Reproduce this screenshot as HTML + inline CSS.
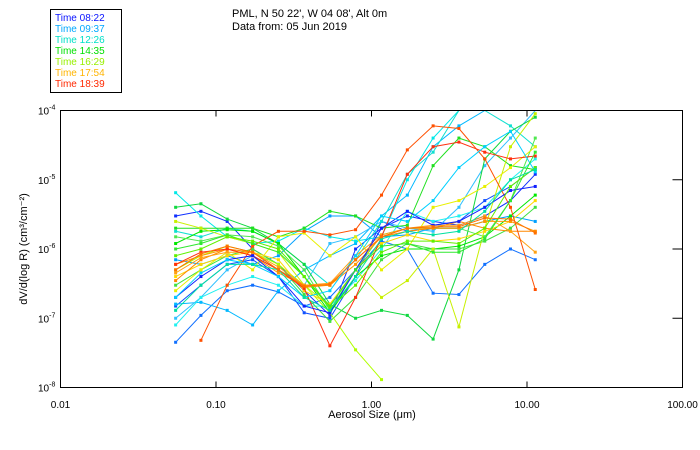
<!DOCTYPE html>
<html><head><meta charset="utf-8"><style>
body{margin:0;background:#fff;}
svg{display:block;font-family:"Liberation Sans",sans-serif;}
</style></head><body>
<svg id="chart" width="700" height="450" viewBox="0 0 700 450">
<rect x="0" y="0" width="700" height="450" fill="#fff"/>
<g>
<rect x="50.5" y="9.5" width="71" height="83" fill="#fff" stroke="#000"/>
</g>
<text x="232" y="17" font-size="11">PML, N 50 22', W 04 08', Alt 0m</text>
<text x="232" y="30" font-size="11">Data from: 05 Jun 2019</text>
<g id="axes"></g>
<g id="series"></g>
<rect x="60.5" y="110.5" width="622" height="277" fill="none" stroke="#000"/>
<text x="372" y="418" font-size="11" text-anchor="middle">Aerosol Size (μm)</text>
<text transform="translate(27,249) rotate(-90)" font-size="11" text-anchor="middle">dV/d(log R) (cm³/cm⁻²)</text>
</svg>
<script>
const sizes=[0.055,0.08,0.118,0.172,0.252,0.369,0.54,0.79,1.16,1.7,2.49,3.65,5.35,7.83,11.3];
const xTicks=[0.01,0.1,1,10,100];
const xTickLabels=["0.01","0.10","1.00","10.00","100.00"];
const yTicks=[-4,-5,-6,-7,-8];
const legendLabels=["Time 08:22","Time 09:37","Time 12:26","Time 14:35","Time 16:29","Time 17:54","Time 18:39"];
const legendColors=["#0a14ff","#00a8ff","#00e0c8","#00e000","#98f000","#ffb400","#ff2800"];
const seriesColors=["#1030ff","#1050ff","#1070ff","#00a0ff","#00b8ff","#30c0ff","#00e8e8","#10e0d0","#20f0f0","#10d840","#20e020","#00e800","#40e040","#50e850","#b0ff00","#c8f000","#e8f000","#ffd800","#ff9800","#ff8800","#ffa010","#ff5000","#ff3010","#1020ff","#00d0ff","#30e830","#60f000","#00e0a0","#ff7000"];
const s0=[3e-6,3.5e-6,2.5e-6,1e-6,6e-7,2.5e-7,1.1e-7,1e-6,2e-6,3e-6,2.5e-6,2.2e-6,3e-6,5e-6,1.2e-5];
const s1=[1.5e-7,3e-7,6e-7,7e-7,4e-7,1.2e-7,1e-7,4e-7,2.5e-6,1.8e-6,2e-6,2.5e-6,5e-6,8e-6,1.5e-5];
const s2=[4.5e-8,1.1e-7,2.5e-7,3e-7,2.4e-7,1.5e-7,2e-7,5e-7,1.3e-6,1e-6,2.3e-7,2.2e-7,6e-7,1e-6,7e-7];
const s3=[7e-7,6e-7,8e-7,6e-7,8e-7,1.8e-6,3e-6,3e-6,1.5e-6,1.6e-6,2e-6,2e-6,2.5e-6,3e-6,2.5e-6];
const s4=[1.6e-7,1.7e-7,1.3e-7,8e-8,2.5e-7,5e-7,8e-7,1.2e-6,3e-6,6e-6,3e-5,6e-5,1e-4,1e-4,1e-4];
const s5=[1e-7,2e-7,5e-7,8e-7,5e-7,3e-7,1.2e-6,1.5e-6,2.5e-6,2e-6,1.8e-6,4e-6,1.6e-5,4e-5,1e-4];
const s6=[6.5e-6,3e-6,1.5e-6,1.2e-6,1.3e-6,2e-6,1.5e-6,1.3e-6,1.5e-6,1e-5,4e-5,1e-4,1e-4,1e-4,1e-4];
const s7=[1.8e-6,1.5e-6,2e-6,1.8e-6,1.2e-6,6e-7,3e-7,7e-7,2.5e-6,1.2e-5,2.5e-5,1e-4,1e-4,6e-5,3e-5];
const s8=[8e-8,2e-7,3e-7,4e-7,3e-7,1.5e-7,1.5e-7,3.5e-7,1e-6,3.5e-6,2.5e-6,3e-6,4e-6,1e-5,2e-5];
const s9=[4e-6,4.5e-6,2.7e-6,2e-6,1.2e-6,6e-7,1.6e-7,1e-7,1.3e-7,1.1e-7,5e-8,5e-7,2e-5,5e-5,8e-5];
const s10=[2e-6,2e-6,2e-6,2e-6,1.5e-6,2e-6,3.5e-6,3e-6,2e-6,2.2e-6,1.6e-5,4e-5,3e-5,1.6e-5,1.4e-5];
const s11=[1.2e-6,1.8e-6,1.9e-6,1.8e-6,1.2e-6,4e-7,1.2e-7,4e-7,8e-7,1e-6,1e-6,1.1e-6,1.5e-6,3e-6,6e-6];
const s12=[3e-7,5e-7,8e-7,1e-6,6e-7,2.2e-7,9e-8,2e-7,7e-7,1.2e-6,1e-6,1e-6,1.3e-6,2e-6,4e-6];
const s13=[1.5e-6,1.3e-6,1.6e-6,1.5e-6,1.1e-6,5e-7,1.3e-7,5e-7,1.6e-6,2e-6,2e-6,2e-6,1.5e-6,5e-6,4e-5];
const s14=[5e-7,8e-7,1.1e-6,9e-7,6e-7,3e-7,1.2e-7,3.5e-8,1.3e-8,null,null,null,null,null,null];
const s15=[2.5e-6,2e-6,1.5e-6,1.2e-6,9e-7,3e-7,1.5e-7,5e-7,2e-7,3.5e-7,1e-6,7.5e-8,2e-6,3e-5,9e-5];
const s16=[2.5e-7,5e-7,9e-7,5e-7,1.5e-6,1.7e-6,8e-7,1.5e-6,5e-7,1e-6,4e-6,5e-6,8e-6,1.5e-5,3e-5];
const s17=[4e-7,6e-7,8e-7,9e-7,7e-7,2.5e-7,1.6e-7,5e-7,1.2e-6,1.6e-6,1.3e-6,1.4e-6,1.8e-6,2.5e-6,5e-6];
const s18=[6e-7,8e-7,1e-6,8e-7,4.5e-7,3e-7,3e-7,6e-7,1.5e-6,2e-6,2e-6,2e-6,2.5e-6,2.5e-6,1.8e-6];
const s19=[3.5e-7,7e-7,1e-6,9e-7,5e-7,2.8e-7,3e-7,7e-7,1.5e-6,1.8e-6,2e-6,2.5e-6,2e-6,1.8e-6,1.8e-6];
const s20=[4.5e-7,7.5e-7,9e-7,9e-7,5.5e-7,3e-7,3.2e-7,8e-7,1.6e-6,2e-6,2.2e-6,2.2e-6,3e-6,1.8e-6,9e-7];
const s21=[null,4.8e-8,3e-7,1.1e-6,1.8e-6,1.8e-6,1.6e-6,1.9e-6,6e-6,2.7e-5,6e-5,5.5e-5,2e-5,4e-6,2.6e-7];
const s22=[6e-7,9e-7,1e-6,8e-7,5e-7,2.7e-7,4e-8,2e-7,1.5e-6,1.2e-5,3e-5,3.5e-5,2.5e-5,2e-5,2.2e-5];
const s23=[2e-7,4e-7,7e-7,8e-7,4e-7,1.5e-7,1.2e-7,5e-7,2e-6,3.5e-6,2.2e-6,2.5e-6,4e-6,7e-6,8e-6];
const s24=[2e-7,4.5e-7,7e-7,6e-7,4e-7,2e-7,2.5e-7,8e-7,3e-6,2.5e-6,5e-6,1.5e-5,3e-5,5e-5,1.3e-5];
const s25=[1e-6,1.2e-6,1.6e-6,1.2e-6,9e-7,4e-7,1.5e-7,5e-7,1.1e-6,1.2e-6,9e-7,9e-7,1.4e-6,5e-6,2.5e-5];
const s26=[8e-7,1e-6,1.5e-6,1.3e-6,1e-6,4e-7,1.4e-7,3e-7,9e-7,1.3e-6,1.3e-6,1.2e-6,2e-6,8e-6,1.5e-5];
const s27=[1.3e-7,3e-7,6e-7,6e-7,5e-7,2e-7,1.3e-7,4e-7,1.4e-6,1.8e-6,1.6e-6,1.8e-6,3.5e-6,1e-5,1.4e-5];
const s28=[5e-7,8.5e-7,1.1e-6,9e-7,5e-7,2.9e-7,3.1e-7,7e-7,1.5e-6,2e-6,2.1e-6,2.1e-6,2.8e-6,2.7e-6,1.7e-6];
const allSeries=[s0,s1,s2,s3,s4,s5,s6,s7,s8,s9,s10,s11,s12,s13,s14,s15,s16,s17,s18,s19,s20,s21,s22,s23,s24,s25,s26,s27,s28];

const NS="http://www.w3.org/2000/svg";
const L=60.5,R=682.5,T=110.5,B=387.5;
function xs(v){return L+(Math.log10(v)+2)/4*(R-L);}
function ys(v){return T+(-4-Math.log10(v))/4*(B-T);}
function mk(tag,attrs,parent){const e=document.createElementNS(NS,tag);for(const k in attrs)e.setAttribute(k,attrs[k]);parent.appendChild(e);return e;}
const axes=document.getElementById('axes');
xTicks.forEach((t,i)=>{
  const x=xs(t);
  if(i>0&&i<xTicks.length-1){
    const a=mk('line',{x1:x,x2:x,y1:B,y2:B-6,stroke:'#000'},axes);
    
    
    const b=mk('line',{x1:x,x2:x,y1:T,y2:T+6,stroke:'#000'},axes);
    
    
  }
  const tx=mk('text',{x:x,y:408,'font-size':10,'text-anchor':'middle'},axes);
  tx.textContent=xTickLabels[i];
  
  
});
yTicks.forEach((t,i)=>{
  const y=ys(Math.pow(10,t));
  if(i>0&&i<yTicks.length-1){
    const a=mk('line',{x1:R,x2:R-10,y1:y,y2:y,stroke:'#000'},axes);
    
    
  }
  const tx=mk('text',{x:38,y:y+4,'font-size':10},axes);
  tx.textContent='10';
  const sp=mk('tspan',{dy:-5,'font-size':7},tx);
  sp.textContent=String(t);
  
  
});
const sg=document.getElementById('series');
allSeries.forEach((s,si)=>{
  const g=mk('g',{},sg);
  
  
  const col=seriesColors[si];
  let d='',pen=false;
  s.forEach((v,i)=>{
    if(v==null){pen=false;return;}
    const c=Math.min(1e-4,v);
    d+=(pen?'L':'M')+xs(sizes[i]).toFixed(1)+' '+ys(c).toFixed(1);
    pen=true;
  });
  const p=mk('path',{d:d,fill:'none',stroke:col,'stroke-width':1},g);
  
  
  s.forEach((v,i)=>{
    if(v==null||v>=1e-4)return;
    const r=mk('rect',{x:xs(sizes[i])-1.5,y:ys(v)-1.5,width:3,height:3,fill:col},g);
    
    
  });
});
const svg=document.getElementById('chart');
legendLabels.forEach((lab,i)=>{
  const t=mk('text',{x:55,y:21+i*11,'font-size':10,fill:legendColors[i]},svg);
  t.textContent=lab;
  
  
});
</script>
</body></html>
